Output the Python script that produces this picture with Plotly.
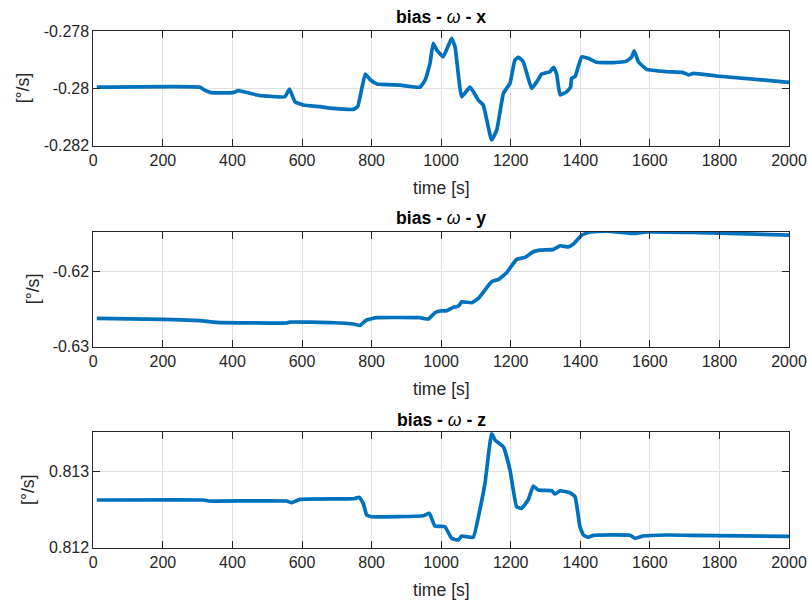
import plotly.graph_objects as go

W, H = 812, 606

# ---------------- data ----------------
t_x = [10, 307, 320, 339, 402, 417, 470, 498, 551, 564, 580, 604, 652, 690, 748, 760, 782, 797, 816, 883,
       939, 954, 968, 977, 987, 1006, 1030, 1040, 1059, 1083, 1107, 1121, 1145, 1160, 1179, 1198, 1212, 1222,
       1236, 1260, 1275, 1289, 1313, 1323, 1332, 1342, 1361, 1372, 1375, 1385, 1404, 1423, 1447, 1495, 1533,
       1548, 1555, 1567, 1591, 1648, 1696, 1711, 1725, 1792, 2000]
bias_x = [-0.27996, -0.27996, -0.28006, -0.28015, -0.28015, -0.28008, -0.28023, -0.28027, -0.28029, -0.28003,
          -0.28047, -0.28058, -0.28064, -0.28070, -0.28073, -0.28064, -0.27950, -0.27971, -0.27985, -0.27989,
          -0.27996, -0.27971, -0.27913, -0.27843, -0.27866, -0.27890, -0.27826, -0.27855, -0.28029, -0.27996,
          -0.28041, -0.28058, -0.28180, -0.28145, -0.28017, -0.27982, -0.27901, -0.27892, -0.27907, -0.28000,
          -0.27977, -0.27950, -0.27942, -0.27927, -0.27950, -0.28023, -0.28012, -0.27996, -0.27965, -0.27959,
          -0.27890, -0.27895, -0.27909, -0.27910, -0.27905, -0.27890, -0.27869, -0.27907, -0.27934, -0.27942,
          -0.27945, -0.27953, -0.27948, -0.27957, -0.27979]

t_y = [10, 201, 307, 355, 556, 565, 690, 747, 767, 786, 815, 939, 949, 963, 982, 997, 1016, 1035, 1050, 1059,
       1088, 1107, 1145, 1165, 1188, 1217, 1241, 1265, 1284, 1323, 1342, 1366, 1380, 1404, 1428, 1476, 1553,
       1591, 1725, 1802, 2000]
bias_y = [-0.62622, -0.62635, -0.62653, -0.62675, -0.62684, -0.62671, -0.62680, -0.62697, -0.62715, -0.62644,
          -0.62613, -0.62613, -0.62622, -0.62631, -0.62547, -0.62524, -0.62520, -0.62475, -0.62457, -0.62400,
          -0.62413, -0.62355, -0.62133, -0.62101, -0.62013, -0.61835, -0.61808, -0.61733, -0.61711, -0.61701,
          -0.61653, -0.61667, -0.61631, -0.61511, -0.61467, -0.61457, -0.61488, -0.61467, -0.61475, -0.61484,
          -0.61511]

t_z = [10, 316, 331, 556, 570, 594, 748, 765, 776, 786, 800, 949, 966, 982, 1011, 1030, 1049, 1059, 1092,
       1111, 1126, 1145, 1155, 1179, 1198, 1217, 1231, 1250, 1265, 1279, 1318, 1327, 1342, 1370, 1385, 1399,
       1409, 1423, 1438, 1543, 1557, 1581, 1648, 1715, 2000]
bias_z = [0.812628, 0.812628, 0.812615, 0.812615, 0.812592, 0.812637, 0.812645, 0.812663, 0.812584, 0.812430,
          0.812408, 0.812421, 0.812453, 0.812286, 0.812276, 0.812124, 0.812101, 0.812154, 0.812137, 0.812496,
          0.812847, 0.813505, 0.813417, 0.813329, 0.813022, 0.812539, 0.812518, 0.812628, 0.812812, 0.812759,
          0.812750, 0.812707, 0.812750, 0.812724, 0.812671, 0.812276, 0.812167, 0.812137, 0.812163, 0.812163,
          0.812124, 0.812154, 0.812167, 0.812163, 0.812150]

x_ticks = [0, 200, 400, 600, 800, 1000, 1200, 1400, 1600, 1800, 2000]
y_ticks_x = [-0.282, -0.28, -0.278]
y_ticktext_x = ["-0.282", "-0.28", "-0.278"]
y_ticks_y = [-0.63, -0.62]
y_ticktext_y = ["-0.63", "-0.62"]
y_ticks_z = [0.812, 0.813]
y_ticktext_z = ["0.812", "0.813"]

titles = ["<b>bias - </b><i>ω</i><b> - x</b>",
          "<b>bias - </b><i>ω</i><b> - y</b>",
          "<b>bias - </b><i>ω</i><b> - z</b>"]
x_label = "time [s]"
y_label = "[°/s]"

# ---------------- layout geometry (pixels) ----------------
ax_left, ax_right = 93.3, 789.0
panels = [  # (top, bottom) pixel rows of each axes box
    (31.0, 145.7),
    (231.7, 346.7),
    (432.3, 547.7),
]
y_ranges = [[-0.282, -0.278], [-0.63, -0.61465], [0.812, 0.81352]]
ylab_x = [23, 33, 28]
title_y = [17, 218, 420]

def px(x):
    return x / W

def py(y):
    return 1 - y / H

FONT = "Liberation Sans, Arial, Helvetica, sans-serif"
TXT = "#262626"
BLUE = "#0072BD"
GRID = "#e0e0e0"

fig = go.Figure()
series = [(t_x, bias_x), (t_y, bias_y), (t_z, bias_z)]
yt = [(y_ticks_x, y_ticktext_x), (y_ticks_y, y_ticktext_y), (y_ticks_z, y_ticktext_z)]

annotations = []
for i, ((t, v), (top, bot)) in enumerate(zip(series, panels)):
    n = "" if i == 0 else str(i + 1)
    fig.add_trace(go.Scatter(x=t, y=v, mode="lines",
                             line=dict(color=BLUE, width=3.7, shape="spline", smoothing=0.35),
                             xaxis="x" + n, yaxis="y" + n, showlegend=False))
    common = dict(showline=True, linecolor=TXT, linewidth=1, mirror="ticks", ticks="inside",
                  tickcolor=TXT, ticklen=7, tickwidth=1, showgrid=True, gridcolor=GRID, gridwidth=1,
                  zeroline=False, automargin=False, tickfont=dict(family=FONT, size=16, color=TXT))
    fig.update_layout(**{
        "xaxis" + n: dict(domain=[px(ax_left), px(ax_right)], range=[0, 2000], anchor="y" + n,
                          tickvals=x_ticks, ticktext=[str(k) for k in x_ticks], **common),
        "yaxis" + n: dict(domain=[py(bot), py(top)], range=y_ranges[i], anchor="x" + n,
                          tickvals=yt[i][0], ticktext=yt[i][1], **common),
    })
    annotations.append(dict(text=titles[i], x=px((ax_left + ax_right) / 2), y=py(title_y[i]),
                            xref="paper", yref="paper", showarrow=False, xanchor="center", yanchor="middle",
                            font=dict(family=FONT, size=17.6, color="#000000")))
    annotations.append(dict(text=x_label, x=px((ax_left + ax_right) / 2), y=py(bot + 42),
                            xref="paper", yref="paper", showarrow=False, xanchor="center", yanchor="middle",
                            font=dict(family=FONT, size=17.6, color=TXT)))
    annotations.append(dict(text=y_label, x=px(ylab_x[i]), y=py((top + bot) / 2), textangle=-90,
                            xref="paper", yref="paper", showarrow=False, xanchor="center", yanchor="middle",
                            font=dict(family=FONT, size=17.6, color=TXT)))

fig.update_layout(width=W, height=H, margin=dict(l=0, r=0, t=0, b=0),
                  paper_bgcolor="white", plot_bgcolor="white", annotations=annotations,
                  font=dict(family=FONT, color=TXT))

fig.write_html("out.html")
